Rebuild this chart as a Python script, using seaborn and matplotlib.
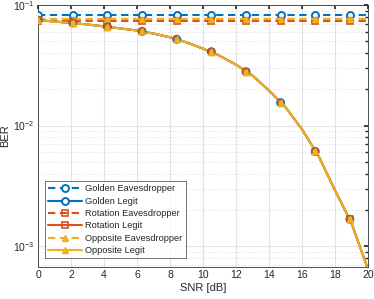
import seaborn as sns
import matplotlib.pyplot as plt
import pandas as pd
from matplotlib.lines import Line2D
from matplotlib.ticker import LogLocator, NullFormatter

# marker positions (every 2.1 dB)
snr_marks = [0, 2.1, 4.2, 6.3, 8.4, 10.5, 12.6, 14.7, 16.8, 18.9]
# eavesdropper curves are flat
snr_eve = snr_marks + [20]
golden_eve = [0.0825] * 11
rotation_eve = [0.0735] * 11
opposite_eve = [0.0765] * 11

# legit curve (same for all three schemes)
snr_line = list(range(0, 21))
legit_line = [0.075, 0.073, 0.071, 0.069, 0.0665, 0.064, 0.0615, 0.058, 0.054,
              0.049, 0.0435, 0.038, 0.032, 0.026, 0.0195, 0.0142, 0.0093,
              0.0056, 0.0029, 0.00155, 0.00064]
legit_marks = [0.075, 0.0712, 0.066, 0.0605, 0.052, 0.041, 0.028, 0.0155,
               0.0061, 0.00167]

c_blue = "#0072BD"
c_red = "#D95319"
c_yel = "#EDB120"

sns.set_theme(style="white")
plt.rcParams["font.family"] = ["Liberation Sans", "DejaVu Sans"]

fig = plt.figure(figsize=(3.74, 2.99), dpi=100)
ax = fig.add_axes([0.102, 0.107, 0.882, 0.876])

eve = pd.DataFrame({"snr": snr_eve, "golden": golden_eve,
                    "rotation": rotation_eve, "opposite": opposite_eve})
leg = pd.DataFrame({"snr": snr_line, "ber": legit_line})
mk = pd.DataFrame({"snr": snr_marks, "ber": legit_marks})

lw = 1.5
dash = (3.5, 2.2)
ms = 5

sns.lineplot(data=eve, x="snr", y="golden", ax=ax, color=c_blue, lw=lw,
             dashes=dash, marker="o", ms=ms, mfc="white", mec=c_blue, mew=1.4,
             markevery=slice(0, 10), zorder=3)
sns.lineplot(data=eve, x="snr", y="rotation", ax=ax, color=c_red, lw=lw,
             dashes=dash, marker="s", ms=4, mfc="none", mec=c_red, mew=1.2,
             markevery=slice(0, 10), zorder=3)
sns.lineplot(data=eve, x="snr", y="opposite", ax=ax, color=c_yel, lw=lw,
             dashes=dash, marker="^", ms=ms, mfc=c_yel, mec=c_yel,
             markevery=slice(0, 10), zorder=3)

for col, z in [(c_blue, 3), (c_red, 4), (c_yel, 5)]:
    sns.lineplot(data=leg, x="snr", y="ber", ax=ax, color=col, lw=lw, zorder=z)
sns.scatterplot(data=mk, x="snr", y="ber", ax=ax, marker="o", s=25,
                facecolor="none", edgecolor=c_blue, linewidth=1.4, zorder=6)
sns.scatterplot(data=mk, x="snr", y="ber", ax=ax, marker="s", s=16,
                facecolor="none", edgecolor=c_red, linewidth=1.2, zorder=7)
sns.scatterplot(data=mk, x="snr", y="ber", ax=ax, marker="^", s=25,
                color=c_yel, edgecolor=c_yel, linewidth=0.5, zorder=8)

ax.set_yscale("log")
ax.set_xlim(0, 20)
ax.set_ylim(6.7e-4, 0.1)
ax.set_xticks(range(0, 21, 2))
ax.yaxis.set_major_locator(LogLocator(base=10, numticks=10))
ax.yaxis.set_minor_locator(LogLocator(base=10, subs=range(2, 10), numticks=10))
ax.yaxis.set_minor_formatter(NullFormatter())

ax.grid(True, which="major", color="#e3e3e3", lw=0.8)
ax.grid(True, which="minor", axis="y", color="#c8c8c8", lw=0.6, ls=(0, (1, 3)))
ax.set_axisbelow(True)
for s in ax.spines.values():
    s.set_color("#333333")
    s.set_linewidth(0.6)
ax.tick_params(which="both", direction="in", labelsize=7.5, colors="#262626",
               top=True, right=True, length=3, pad=2.5)
ax.tick_params(which="minor", length=2)

ax.set_xlabel("SNR [dB]", fontsize=8, color="#262626", labelpad=2)
ax.set_ylabel("BER", fontsize=8, color="#262626", labelpad=2)

handles = [
    Line2D([], [], color=c_blue, lw=lw, dashes=dash, marker="o", ms=ms,
           mfc="white", mew=1.4),
    Line2D([], [], color=c_blue, lw=lw, marker="o", ms=ms, mfc="white", mew=1.4),
    Line2D([], [], color=c_red, lw=lw, dashes=dash, marker="s", ms=4,
           mfc="none", mew=1.2),
    Line2D([], [], color=c_red, lw=lw, marker="s", ms=4, mfc="none", mew=1.2),
    Line2D([], [], color=c_yel, lw=lw, dashes=dash, marker="^", ms=ms, mfc=c_yel),
    Line2D([], [], color=c_yel, lw=lw, marker="^", ms=ms, mfc=c_yel),
]
labels = ["Golden Eavesdropper", "Golden Legit", "Rotation Eavesdropper",
          "Rotation Legit", "Opposite Eavesdropper", "Opposite Legit"]
lg = ax.legend(handles, labels, loc="lower left", bbox_to_anchor=(0.012, 0.022),
               fontsize=6.7, frameon=True, fancybox=False, handlelength=3.6,
               handletextpad=0.4, labelspacing=0.36, borderpad=0.35,
               borderaxespad=0.3)
lg.get_frame().set_edgecolor("#333333")
lg.get_frame().set_linewidth(0.6)

fig.savefig("out.png", dpi=100)
